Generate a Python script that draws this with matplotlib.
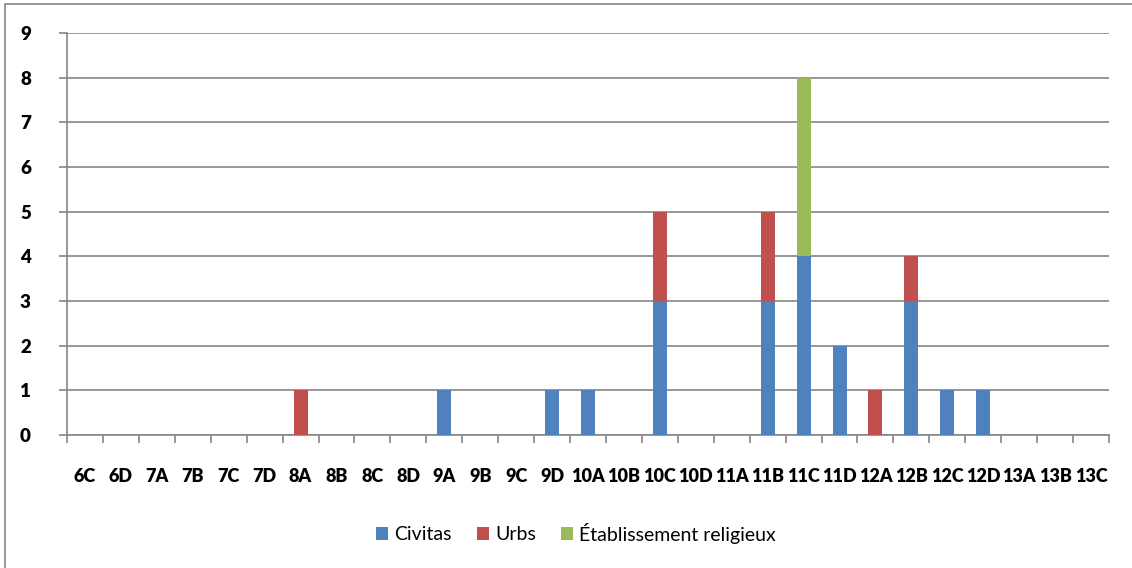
import numpy as np
import matplotlib.pyplot as plt
from matplotlib.patches import Rectangle

periods = ["6C", "6D", "7A", "7B", "7C", "7D", "8A", "8B", "8C", "8D",
           "9A", "9B", "9C", "9D", "10A", "10B", "10C", "10D", "11A", "11B",
           "11C", "11D", "12A", "12B", "12C", "12D", "13A", "13B", "13C"]
civitas = [0, 0, 0, 0, 0, 0, 0, 0, 0, 0,
           1, 0, 0, 1, 1, 0, 3, 0, 0, 3,
           4, 2, 0, 3, 1, 1, 0, 0, 0]
urbs = [0, 0, 0, 0, 0, 0, 1, 0, 0, 0,
        0, 0, 0, 0, 0, 0, 2, 0, 0, 2,
        0, 0, 1, 1, 0, 0, 0, 0, 0]
religieux = [0, 0, 0, 0, 0, 0, 0, 0, 0, 0,
             0, 0, 0, 0, 0, 0, 0, 0, 0, 0,
             4, 0, 0, 0, 0, 0, 0, 0, 0]

plt.rcParams['font.family'] = ['Lato', 'DejaVu Sans']

fig = plt.figure(figsize=(11.32, 5.68), dpi=100)
ax = fig.add_axes([67/1132, 1 - 435/568, (1109 - 67)/1132, (435 - 33)/568])

x = np.arange(len(periods))
civ = np.array(civitas)
urb = np.array(urbs)
rel = np.array(religieux)
w = 0.39
grid_c = "#868686"

ax.bar(x, civ, w, color="#4F81BD", label="Civitas", zorder=3)
ax.bar(x, urb, w, bottom=civ, color="#C0504D", label="Urbs", zorder=3)
ax.bar(x, rel, w, bottom=civ + urb, color="#9BBB59",
       label="Établissement religieux", zorder=3)

ax.set_xlim(-0.5, len(periods) - 0.5)
ax.set_ylim(0, 9)
ax.set_yticks(range(10))
ax.yaxis.grid(True, color=grid_c, linewidth=1.2, zorder=0)

ax.set_xticks(x)
ax.set_xticklabels(periods, fontsize=13, fontweight="heavy")
ax.set_xticks(np.arange(len(periods) + 1) - 0.5, minor=True)
ax.tick_params(axis="x", which="major", length=0, pad=24)
ax.tick_params(axis="x", which="minor", length=6, color=grid_c, width=1.2)
ax.tick_params(axis="y", length=6, color=grid_c, width=1.2, pad=20)
for lab in ax.get_yticklabels():
    lab.set_fontsize(13.5)
    lab.set_fontweight("heavy")

for s in ["top", "right"]:
    ax.spines[s].set_visible(False)
for s in ["left", "bottom"]:
    ax.spines[s].set_color(grid_c)
    ax.spines[s].set_linewidth(1.2)

fig.legend(loc="center", bbox_to_anchor=(576/1132, 1 - 533/568), ncol=3,
           frameon=False, fontsize=14, handlelength=0.62, handleheight=0.62,
           handletextpad=0.3, columnspacing=1.3)

fig.patches.append(Rectangle((5/1132, -0.1), 1.2, 1 - 4/568 + 0.1,
                             transform=fig.transFigure, fill=False,
                             edgecolor=grid_c, linewidth=1.2))

fig.savefig("out.png", dpi=100)
